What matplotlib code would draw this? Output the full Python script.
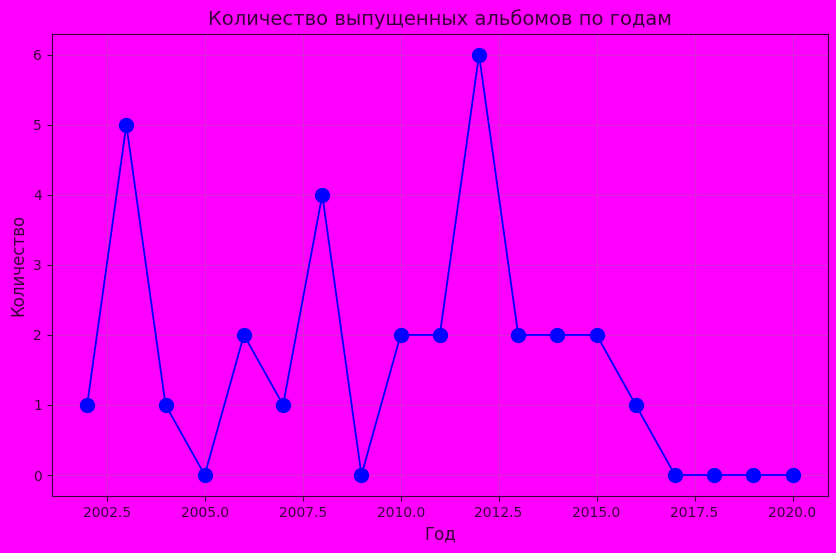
import matplotlib
matplotlib.use("Agg")
import matplotlib.pyplot as plt

years = [2002, 2003, 2004, 2005, 2006, 2007, 2008, 2009, 2010, 2011,
         2012, 2013, 2014, 2015, 2016, 2017, 2018, 2019, 2020]
counts = [1, 5, 1, 0, 2, 1, 4, 0, 2, 2, 6, 2, 2, 2, 1, 0, 0, 0, 0]

title = "Количество выпущенных альбомов по годам"
xlabel = "Год"
ylabel = "Количество"

bg = "#ff00ff"
txt = "#3a003a"

fig = plt.figure(figsize=(8.37, 5.53), dpi=100, facecolor=bg)
ax = fig.add_axes([0.062, 0.103, 0.927, 0.836])
ax.set_facecolor(bg)
ax.plot(years, counts, color="blue", linewidth=1.3, marker="o",
        markersize=10, markerfacecolor="blue", markeredgecolor="blue")
ax.grid(True, color="#c040c0", linewidth=0.8, alpha=0.6)
ax.set_title(title, fontsize=14, color=txt)
ax.set_xlabel(xlabel, fontsize=12, color=txt)
ax.set_ylabel(ylabel, fontsize=12, color=txt)
ax.tick_params(colors=txt, labelsize=10)
for s in ax.spines.values():
    s.set_color(txt)
fig.savefig("out.png", facecolor=bg)
